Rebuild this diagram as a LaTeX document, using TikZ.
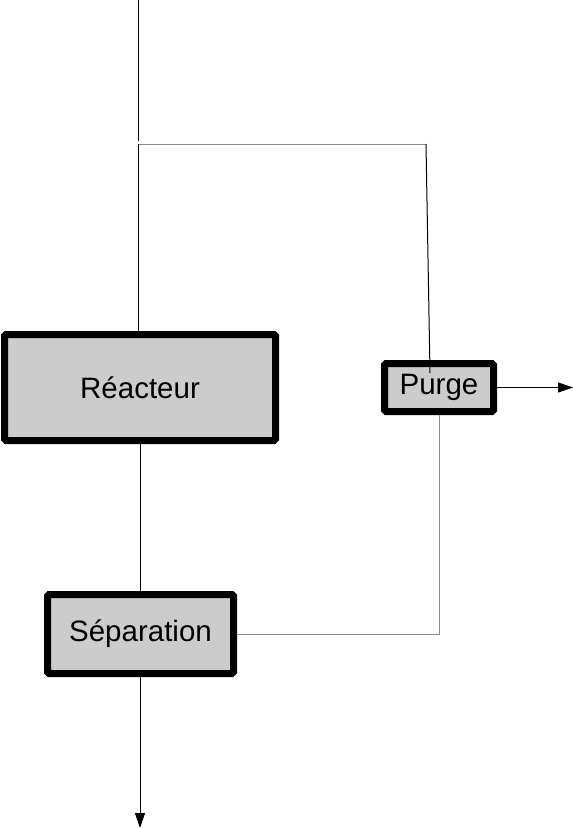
\documentclass[tikz,border=0pt]{standalone}
\usepackage{fontspec}
\setmainfont{Liberation Sans}
\usetikzlibrary{arrows.meta}
\begin{document}
\begin{tikzpicture}[x=1pt,y=-1pt,
  unitbox/.style={draw=black,line width=7pt,fill=black!20,rounded corners=1.5pt,
    inner sep=0pt,font=\fontsize{29.5}{32}\selectfont},
  conn/.style={draw=black,line width=1pt},
  lconn/.style={draw=black!45,line width=1pt},
  flow/.style={conn,-{Triangle[length=15pt,width=10pt]}}]
\useasboundingbox (0,0) rectangle (573,828);
\node[unitbox,minimum width=271pt,minimum height=106pt] (rea) at (140,387.5) {Réacteur};
\node[unitbox,minimum width=109pt,minimum height=48pt] (pur) at (439,387.5) {Purge};
\node[unitbox,minimum width=186pt,minimum height=79pt] (sep) at (140.5,634) {Séparation};
\coordinate (in) at (138,0);
\coordinate (ta) at (138,141);
\coordinate (c1) at (138.5,144);
\coordinate (c2) at (426,144);
\coordinate (pin) at (430,373);
\coordinate (pout) at (573,387.5);
\coordinate (pb) at (439,634);
\coordinate (out) at (140,828);
\draw[conn] (in) -- (ta);
\draw[conn] (rea.north -| c1) -- (c1);
\draw[lconn] (c1) -- (c2);
\draw[conn] (c2) -- (pin);
\draw[flow] (pur.east) -- (pout);
\draw[lconn] (pur.south -| pb) -- (pb) -- (sep.east);
\draw[conn] (rea.south) -- (sep.north -| rea.south);
\draw[flow] (sep.south -| out) -- (out);
\end{tikzpicture}
\end{document}
